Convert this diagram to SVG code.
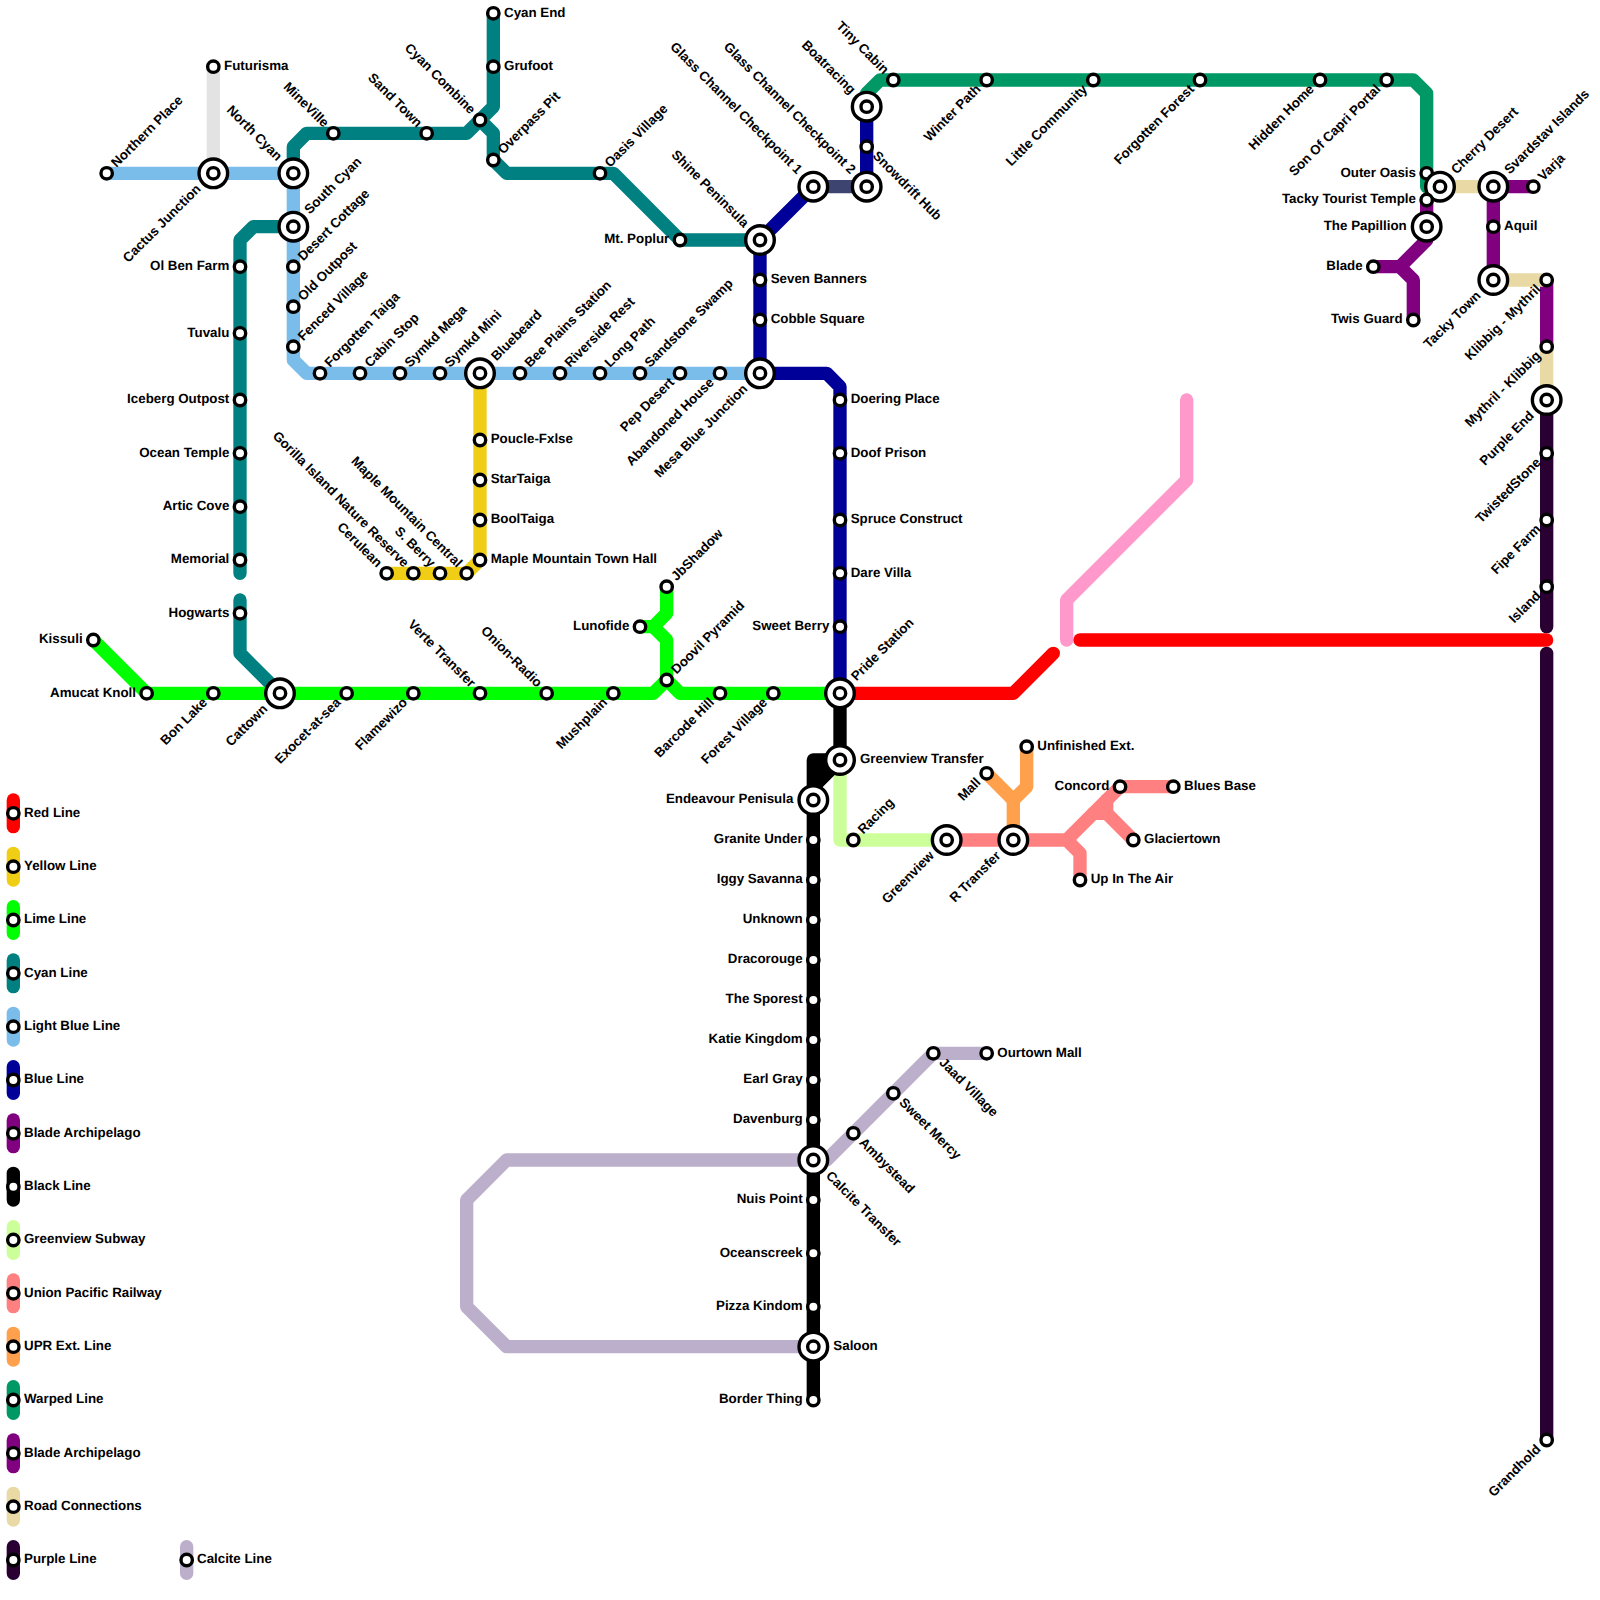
<svg xmlns="http://www.w3.org/2000/svg" xmlns:xlink="http://www.w3.org/1999/xlink" width="1600" height="1600" viewBox="0 0 1600 1600">
<style>
.ln{fill:none;stroke-width:13.33;stroke-linecap:round;stroke-linejoin:round}
.t{font-family:"Liberation Sans",Arial,sans-serif;font-size:13.33px;font-weight:700;fill:#000;text-rendering:geometricPrecision}
.a{text-anchor:end}
.red{stroke:#ff0000}.yel{stroke:#f0ce15}.lim{stroke:#00ff00}.cya{stroke:#008080}.lbl{stroke:#7bbdea}.blu{stroke:#000099}.pur{stroke:#800080}.blk{stroke:#000}.gvs{stroke:#ccff99}.upr{stroke:#ff8080}.ext{stroke:#ffa04d}.war{stroke:#009966}.rod{stroke:#e8d9a5}.dpu{stroke:#2a0033}.cal{stroke:#bcafcb}.pnk{stroke:#ff99cc}.gry{stroke:#e3e3e3}.sla{stroke:#3d4470}
.r{fill:#fff;stroke:#000;stroke-width:3.4}
</style>
<defs>
<g id="s"><circle class="r" r="5.7"/></g>
<g id="i"><circle class="r" r="14.3"/><circle class="r" r="5.7"/></g>
</defs>
<g id="connectors">
<path class="ln pnk" d="M1066.67 640V600L1186.67 480V400"/>
<path class="ln gry" d="M213.33 66.67V173.33"/>
<path class="ln cya" d="M493.33 13.33V106.67L466.67 133.33H306.67L293.33 146.67V173.33"/>
<path class="ln cya" d="M480 120L493.33 133.33V160L506.67 173.33H613.33L680 240H760"/>
<path class="ln cya" d="M293.33 226.67H253.33L240 240V573.33"/>
<path class="ln cya" d="M240 600V653.33L280 693.33"/>
<path class="ln lbl" d="M106.67 173.33H293.33V360L306.67 373.33H760"/>
<path class="ln yel" d="M480 373.33V560L466.67 573.33H386.67"/>
<path class="ln lim" d="M93.33 640L146.67 693.33H653.33L666.67 680L680 693.33H840"/>
<path class="ln lim" d="M666.67 586.67V613.33L653.33 626.67H640"/>
<path class="ln lim" d="M653.33 626.67L666.67 640V680"/>
<path class="ln blu" d="M866.67 106.67V186.67"/>
<path class="ln blu" d="M813.33 186.67L760 240V373.33H826.67L840 386.67V693.33"/>
<path class="ln sla" d="M813.33 186.67H866.67"/>
<path class="ln war" d="M866.67 106.67V93.33L880 80H1413.33L1426.67 93.33V186.67H1440"/>
<path class="ln pur" d="M1426.67 200V240L1400 266.67H1373.33"/>
<path class="ln pur" d="M1400 266.67L1413.33 280V320"/>
<path class="ln pur" d="M1533.33 186.67H1493.33V280"/>
<path class="ln pur" d="M1546.67 280V346.67"/>
<path class="ln rod" d="M1440 186.67H1493.33"/>
<path class="ln rod" d="M1493.33 280H1546.67"/>
<path class="ln rod" d="M1546.67 346.67V400"/>
<path class="ln dpu" d="M1546.67 400V626.67"/>
<path class="ln dpu" d="M1546.67 653.33V1440"/>
<path class="ln red" d="M840 693.33H1013.33L1053.33 653.33"/>
<path class="ln red" d="M1080 640H1546.67"/>
<path class="ln gvs" d="M840 760V840H946.67"/>
<path class="ln upr" d="M946.67 840H1066.67L1120 786.67H1173.33"/>
<path class="ln upr" d="M1066.67 840L1080 853.33V880"/>
<path class="ln upr" d="M1093.33 813.33H1106.67L1133.33 840"/>
<path class="ln upr" d="M1106.67 800V813.33"/>
<path class="ln ext" d="M1026.67 746.67V786.67L1013.33 800V840"/>
<path class="ln ext" d="M986.67 773.33L1013.33 800"/>
<path class="ln cal" d="M813.33 1160H506.67L466.67 1200V1306.67L506.67 1346.67H813.33"/>
<path class="ln cal" d="M813.33 1160H826.67L933.33 1053.33H986.67"/>
<path class="ln blk" d="M840 693.33V760L813.33 786.67V1400"/>
<path class="ln blk" style="fill:#000" d="M840 760H813.33V786.67Z"/>
</g>
<g id="legend">
<g id="leg-red"><path class="ln red" d="M13.33 800V826.67"/><use href="#s" x="13.33" y="813.33"/><text class="t" x="24" y="816.67">Red Line</text></g>
<g id="leg-yellow"><path class="ln yel" d="M13.33 853.33V880"/><use href="#s" x="13.33" y="866.67"/><text class="t" x="24" y="870">Yellow Line</text></g>
<g id="leg-lime"><path class="ln lim" d="M13.33 906.67V933.33"/><use href="#s" x="13.33" y="920"/><text class="t" x="24" y="923.33">Lime Line</text></g>
<g id="leg-cyan"><path class="ln cya" d="M13.33 960V986.67"/><use href="#s" x="13.33" y="973.33"/><text class="t" x="24" y="976.67">Cyan Line</text></g>
<g id="leg-lightblue"><path class="ln lbl" d="M13.33 1013.33V1040"/><use href="#s" x="13.33" y="1026.67"/><text class="t" x="24" y="1030">Light Blue Line</text></g>
<g id="leg-blue"><path class="ln blu" d="M13.33 1066.67V1093.33"/><use href="#s" x="13.33" y="1080"/><text class="t" x="24" y="1083.33">Blue Line</text></g>
<g id="leg-blade1"><path class="ln pur" d="M13.33 1120V1146.67"/><use href="#s" x="13.33" y="1133.33"/><text class="t" x="24" y="1136.67">Blade Archipelago</text></g>
<g id="leg-black"><path class="ln blk" d="M13.33 1173.33V1200"/><use href="#s" x="13.33" y="1186.67"/><text class="t" x="24" y="1190">Black Line</text></g>
<g id="leg-greenview"><path class="ln gvs" d="M13.33 1226.67V1253.33"/><use href="#s" x="13.33" y="1240"/><text class="t" x="24" y="1243.33">Greenview Subway</text></g>
<g id="leg-union"><path class="ln upr" d="M13.33 1280V1306.67"/><use href="#s" x="13.33" y="1293.33"/><text class="t" x="24" y="1296.67">Union Pacific Railway</text></g>
<g id="leg-upr"><path class="ln ext" d="M13.33 1333.33V1360"/><use href="#s" x="13.33" y="1346.67"/><text class="t" x="24" y="1350">UPR Ext. Line</text></g>
<g id="leg-warped"><path class="ln war" d="M13.33 1386.67V1413.33"/><use href="#s" x="13.33" y="1400"/><text class="t" x="24" y="1403.33">Warped Line</text></g>
<g id="leg-blade2"><path class="ln pur" d="M13.33 1440V1466.67"/><use href="#s" x="13.33" y="1453.33"/><text class="t" x="24" y="1456.67">Blade Archipelago</text></g>
<g id="leg-road"><path class="ln rod" d="M13.33 1493.33V1520"/><use href="#s" x="13.33" y="1506.67"/><text class="t" x="24" y="1510">Road Connections</text></g>
<g id="leg-purple"><path class="ln dpu" d="M13.33 1546.67V1573.33"/><use href="#s" x="13.33" y="1560"/><text class="t" x="24" y="1563.33">Purple Line</text></g>
<g id="leg-calcite"><path class="ln cal" d="M186.67 1546.67V1573.33"/><use href="#s" x="186.67" y="1560"/><text class="t" x="197" y="1563.33">Calcite Line</text></g>
</g>
<g id="stations">
<g id="n1" transform="translate(106.67 173.33)"><use href="#s"/><text class="t" transform="rotate(-45)" x="10.7" y="3.3">Northern Place</text></g>
<g id="n2" transform="translate(213.33 173.33)"><use href="#i"/><text class="t a" transform="rotate(-45)" x="-20" y="3.3">Cactus Junction</text></g>
<g id="n3" transform="translate(213.33 66.67)"><use href="#s"/><text class="t" x="10.7" y="3.3">Futurisma</text></g>
<g id="n4" transform="translate(293.33 173.33)"><use href="#i"/><text class="t a" transform="rotate(45)" x="-20" y="3.3">North Cyan</text></g>
<g id="n5" transform="translate(293.33 226.67)"><use href="#i"/><text class="t" transform="rotate(-45)" x="20" y="3.3">South Cyan</text></g>
<g id="n6" transform="translate(293.33 266.67)"><use href="#s"/><text class="t" transform="rotate(-45)" x="10.7" y="3.3">Desert Cottage</text></g>
<g id="n7" transform="translate(293.33 306.67)"><use href="#s"/><text class="t" transform="rotate(-45)" x="10.7" y="3.3">Old Outpost</text></g>
<g id="n8" transform="translate(293.33 346.67)"><use href="#s"/><text class="t" transform="rotate(-45)" x="10.7" y="3.3">Fenced Village</text></g>
<g id="n9" transform="translate(320 373.33)"><use href="#s"/><text class="t" transform="rotate(-45)" x="10.7" y="3.3">Forgotten Taiga</text></g>
<g id="n10" transform="translate(360 373.33)"><use href="#s"/><text class="t" transform="rotate(-45)" x="10.7" y="3.3">Cabin Stop</text></g>
<g id="n11" transform="translate(400 373.33)"><use href="#s"/><text class="t" transform="rotate(-45)" x="10.7" y="3.3">Symkd Mega</text></g>
<g id="n12" transform="translate(440 373.33)"><use href="#s"/><text class="t" transform="rotate(-45)" x="10.7" y="3.3">Symkd Mini</text></g>
<g id="n13" transform="translate(480 373.33)"><use href="#i"/><text class="t" transform="rotate(-45)" x="20" y="3.3">Bluebeard</text></g>
<g id="n14" transform="translate(520 373.33)"><use href="#s"/><text class="t" transform="rotate(-45)" x="10.7" y="3.3">Bee Plains Station</text></g>
<g id="n15" transform="translate(560 373.33)"><use href="#s"/><text class="t" transform="rotate(-45)" x="10.7" y="3.3">Riverside Rest</text></g>
<g id="n16" transform="translate(600 373.33)"><use href="#s"/><text class="t" transform="rotate(-45)" x="10.7" y="3.3">Long Path</text></g>
<g id="n17" transform="translate(640 373.33)"><use href="#s"/><text class="t" transform="rotate(-45)" x="10.7" y="3.3">Sandstone Swamp</text></g>
<g id="n18" transform="translate(680 373.33)"><use href="#s"/><text class="t a" transform="rotate(-45)" x="-10.7" y="3.3">Pep Desert</text></g>
<g id="n19" transform="translate(720 373.33)"><use href="#s"/><text class="t a" transform="rotate(-45)" x="-10.7" y="3.3">Abandoned House</text></g>
<g id="n20" transform="translate(760 373.33)"><use href="#i"/><text class="t a" transform="rotate(-45)" x="-20" y="3.3">Mesa Blue Junction</text></g>
<g id="n21" transform="translate(493.33 13.33)"><use href="#s"/><text class="t" x="10.7" y="3.3">Cyan End</text></g>
<g id="n22" transform="translate(493.33 66.67)"><use href="#s"/><text class="t" x="10.7" y="3.3">Grufoot</text></g>
<g id="n23" transform="translate(480 120)"><use href="#s"/><text class="t a" transform="rotate(45)" x="-10.7" y="3.3">Cyan Combine</text></g>
<g id="n24" transform="translate(493.33 160)"><use href="#s"/><text class="t" transform="rotate(-45)" x="10.7" y="3.3">Overpass Pit</text></g>
<g id="n25" transform="translate(600 173.33)"><use href="#s"/><text class="t" transform="rotate(-45)" x="10.7" y="3.3">Oasis Village</text></g>
<g id="n26" transform="translate(680 240)"><use href="#s"/><text class="t a" x="-10.7" y="3.3">Mt. Poplur</text></g>
<g id="n27" transform="translate(760 240)"><use href="#i"/><text class="t a" transform="rotate(45)" x="-20" y="3.3">Shine Peninsula</text></g>
<g id="n28" transform="translate(333.33 133.33)"><use href="#s"/><text class="t a" transform="rotate(45)" x="-10.7" y="3.3">MineVille</text></g>
<g id="n29" transform="translate(426.67 133.33)"><use href="#s"/><text class="t a" transform="rotate(45)" x="-10.7" y="3.3">Sand Town</text></g>
<g id="n30" transform="translate(240 266.67)"><use href="#s"/><text class="t a" x="-10.7" y="3.3">Ol Ben Farm</text></g>
<g id="n31" transform="translate(240 333.33)"><use href="#s"/><text class="t a" x="-10.7" y="3.3">Tuvalu</text></g>
<g id="n32" transform="translate(240 400)"><use href="#s"/><text class="t a" x="-10.7" y="3.3">Iceberg Outpost</text></g>
<g id="n33" transform="translate(240 453.33)"><use href="#s"/><text class="t a" x="-10.7" y="3.3">Ocean Temple</text></g>
<g id="n34" transform="translate(240 506.67)"><use href="#s"/><text class="t a" x="-10.7" y="3.3">Artic Cove</text></g>
<g id="n35" transform="translate(240 560)"><use href="#s"/><text class="t a" x="-10.7" y="3.3">Memorial</text></g>
<g id="n36" transform="translate(240 613.33)"><use href="#s"/><text class="t a" x="-10.7" y="3.3">Hogwarts</text></g>
<g id="n37" transform="translate(280 693.33)"><use href="#i"/><text class="t a" transform="rotate(-45)" x="-20" y="3.3">Cattown</text></g>
<g id="n38" transform="translate(480 440)"><use href="#s"/><text class="t" x="10.7" y="3.3">Poucle-Fxlse</text></g>
<g id="n39" transform="translate(480 480)"><use href="#s"/><text class="t" x="10.7" y="3.3">StarTaiga</text></g>
<g id="n40" transform="translate(480 520)"><use href="#s"/><text class="t" x="10.7" y="3.3">BoolTaiga</text></g>
<g id="n41" transform="translate(480 560)"><use href="#s"/><text class="t" x="10.7" y="3.3">Maple Mountain Town Hall</text></g>
<g id="n42" transform="translate(466.67 573.33)"><use href="#s"/><text class="t a" transform="rotate(45)" x="-10.7" y="3.3">Maple Mountain Central</text></g>
<g id="n43" transform="translate(440 573.33)"><use href="#s"/><text class="t a" transform="rotate(45)" x="-10.7" y="3.3">S. Berry</text></g>
<g id="n44" transform="translate(413.33 573.33)"><use href="#s"/><text class="t a" transform="rotate(45)" x="-10.7" y="3.3">Gorilla Island Nature Reserve</text></g>
<g id="n45" transform="translate(386.67 573.33)"><use href="#s"/><text class="t a" transform="rotate(45)" x="-10.7" y="3.3">Cerulean</text></g>
<g id="n46" transform="translate(93.33 640)"><use href="#s"/><text class="t a" x="-10.7" y="3.3">Kissuli</text></g>
<g id="n47" transform="translate(146.67 693.33)"><use href="#s"/><text class="t a" x="-10.7" y="3.3">Amucat Knoll</text></g>
<g id="n48" transform="translate(213.33 693.33)"><use href="#s"/><text class="t a" transform="rotate(-45)" x="-10.7" y="3.3">Bon Lake</text></g>
<g id="n49" transform="translate(346.67 693.33)"><use href="#s"/><text class="t a" transform="rotate(-45)" x="-10.7" y="3.3">Exocet-at-sea</text></g>
<g id="n50" transform="translate(413.33 693.33)"><use href="#s"/><text class="t a" transform="rotate(-45)" x="-10.7" y="3.3">Flamewizo</text></g>
<g id="n51" transform="translate(480 693.33)"><use href="#s"/><text class="t a" transform="rotate(45)" x="-10.7" y="3.3">Verte Transfer</text></g>
<g id="n52" transform="translate(546.67 693.33)"><use href="#s"/><text class="t a" transform="rotate(45)" x="-10.7" y="3.3">Onion-Radio</text></g>
<g id="n53" transform="translate(613.33 693.33)"><use href="#s"/><text class="t a" transform="rotate(-45)" x="-10.7" y="3.3">Mushplain</text></g>
<g id="n54" transform="translate(666.67 680)"><use href="#s"/><text class="t" transform="rotate(-45)" x="10.7" y="3.3">Doovil Pyramid</text></g>
<g id="n55" transform="translate(666.67 586.67)"><use href="#s"/><text class="t" transform="rotate(-45)" x="10.7" y="3.3">JbShadow</text></g>
<g id="n56" transform="translate(640 626.67)"><use href="#s"/><text class="t a" x="-10.7" y="3.3">Lunofide</text></g>
<g id="n57" transform="translate(720 693.33)"><use href="#s"/><text class="t a" transform="rotate(-45)" x="-10.7" y="3.3">Barcode Hill</text></g>
<g id="n58" transform="translate(773.33 693.33)"><use href="#s"/><text class="t a" transform="rotate(-45)" x="-10.7" y="3.3">Forest Village</text></g>
<g id="n59" transform="translate(840 693.33)"><use href="#i"/><text class="t" transform="rotate(-45)" x="20" y="3.3">Pride Station</text></g>
<g id="n60" transform="translate(760 280)"><use href="#s"/><text class="t" x="10.7" y="3.3">Seven Banners</text></g>
<g id="n61" transform="translate(760 320)"><use href="#s"/><text class="t" x="10.7" y="3.3">Cobble Square</text></g>
<g id="n62" transform="translate(840 400)"><use href="#s"/><text class="t" x="10.7" y="3.3">Doering Place</text></g>
<g id="n63" transform="translate(840 453.33)"><use href="#s"/><text class="t" x="10.7" y="3.3">Doof Prison</text></g>
<g id="n64" transform="translate(840 520)"><use href="#s"/><text class="t" x="10.7" y="3.3">Spruce Construct</text></g>
<g id="n65" transform="translate(840 573.33)"><use href="#s"/><text class="t" x="10.7" y="3.3">Dare Villa</text></g>
<g id="n66" transform="translate(840 626.67)"><use href="#s"/><text class="t a" x="-10.7" y="3.3">Sweet Berry</text></g>
<g id="n67" transform="translate(813.33 186.67)"><use href="#i"/><text class="t a" transform="rotate(45)" x="-20" y="3.3">Glass Channel Checkpoint 1</text></g>
<g id="n68" transform="translate(866.67 186.67)"><use href="#i"/><text class="t a" transform="rotate(45)" x="-20" y="3.3">Glass Channel Checkpoint 2</text></g>
<g id="n69" transform="translate(866.67 146.67)"><use href="#s"/><text class="t" transform="rotate(45)" x="10.7" y="3.3">Snowdrift Hub</text></g>
<g id="n70" transform="translate(866.67 106.67)"><use href="#i"/><text class="t a" transform="rotate(45)" x="-20" y="3.3">Boatracing</text></g>
<g id="n71" transform="translate(893.33 80)"><use href="#s"/><text class="t a" transform="rotate(45)" x="-10.7" y="3.3">Tiny Cabin</text></g>
<g id="n72" transform="translate(986.67 80)"><use href="#s"/><text class="t a" transform="rotate(-45)" x="-10.7" y="3.3">Winter Path</text></g>
<g id="n73" transform="translate(1093.33 80)"><use href="#s"/><text class="t a" transform="rotate(-45)" x="-10.7" y="3.3">Little Community</text></g>
<g id="n74" transform="translate(1200 80)"><use href="#s"/><text class="t a" transform="rotate(-45)" x="-10.7" y="3.3">Forgotten Forest</text></g>
<g id="n75" transform="translate(1320 80)"><use href="#s"/><text class="t a" transform="rotate(-45)" x="-10.7" y="3.3">Hidden Home</text></g>
<g id="n76" transform="translate(1386.67 80)"><use href="#s"/><text class="t a" transform="rotate(-45)" x="-10.7" y="3.3">Son Of Capri Portal</text></g>
<g id="n77" transform="translate(1426.67 173.33)"><use href="#s"/><text class="t a" x="-10.7" y="3.3">Outer Oasis</text></g>
<g id="n78" transform="translate(1440 186.67)"><use href="#i"/><text class="t" transform="rotate(-45)" x="20" y="3.3">Cherry Desert</text></g>
<g id="n79" transform="translate(1426.67 200)"><use href="#s"/><text class="t a" x="-10.7" y="3.3">Tacky Tourist Temple</text></g>
<g id="n80" transform="translate(1426.67 226.67)"><use href="#i"/><text class="t a" x="-20" y="3.3">The Papillion</text></g>
<g id="n81" transform="translate(1373.33 266.67)"><use href="#s"/><text class="t a" x="-10.7" y="3.3">Blade</text></g>
<g id="n82" transform="translate(1413.33 320)"><use href="#s"/><text class="t a" x="-10.7" y="3.3">Twis Guard</text></g>
<g id="n83" transform="translate(1493.33 186.67)"><use href="#i"/><text class="t" transform="rotate(-45)" x="20" y="3.3">Svardstav Islands</text></g>
<g id="n84" transform="translate(1533.33 186.67)"><use href="#s"/><text class="t" transform="rotate(-45)" x="10.7" y="3.3">Varja</text></g>
<g id="n85" transform="translate(1493.33 226.67)"><use href="#s"/><text class="t" x="10.7" y="3.3">Aquil</text></g>
<g id="n86" transform="translate(1493.33 280)"><use href="#i"/><text class="t a" transform="rotate(-45)" x="-20" y="3.3">Tacky Town</text></g>
<g id="n87" transform="translate(1546.67 280)"><use href="#s"/><text class="t a" transform="rotate(-45)" x="-10.7" y="3.3">Klibbig - Mythril</text></g>
<g id="n88" transform="translate(1546.67 346.67)"><use href="#s"/><text class="t a" transform="rotate(-45)" x="-10.7" y="3.3">Mythril - Klibbig</text></g>
<g id="n89" transform="translate(1546.67 400)"><use href="#i"/><text class="t a" transform="rotate(-45)" x="-20" y="3.3">Purple End</text></g>
<g id="n90" transform="translate(1546.67 453.33)"><use href="#s"/><text class="t a" transform="rotate(-45)" x="-10.7" y="3.3">TwistedStone</text></g>
<g id="n91" transform="translate(1546.67 520)"><use href="#s"/><text class="t a" transform="rotate(-45)" x="-10.7" y="3.3">Fipe Farm</text></g>
<g id="n92" transform="translate(1546.67 586.67)"><use href="#s"/><text class="t a" transform="rotate(-45)" x="-10.7" y="3.3">Island</text></g>
<g id="n93" transform="translate(1546.67 1440)"><use href="#s"/><text class="t a" transform="rotate(-45)" x="-10.7" y="3.3">Grandhold</text></g>
<g id="n94" transform="translate(840 760)"><use href="#i"/><text class="t" x="20" y="3.3">Greenview Transfer</text></g>
<g id="n95" transform="translate(813.33 800)"><use href="#i"/><text class="t a" x="-20" y="3.3">Endeavour Penisula</text></g>
<g id="n96" transform="translate(813.33 840)"><use href="#s"/><text class="t a" x="-10.7" y="3.3">Granite Under</text></g>
<g id="n97" transform="translate(813.33 880)"><use href="#s"/><text class="t a" x="-10.7" y="3.3">Iggy Savanna</text></g>
<g id="n98" transform="translate(813.33 920)"><use href="#s"/><text class="t a" x="-10.7" y="3.3">Unknown</text></g>
<g id="n99" transform="translate(813.33 960)"><use href="#s"/><text class="t a" x="-10.7" y="3.3">Dracorouge</text></g>
<g id="n100" transform="translate(813.33 1000)"><use href="#s"/><text class="t a" x="-10.7" y="3.3">The Sporest</text></g>
<g id="n101" transform="translate(813.33 1040)"><use href="#s"/><text class="t a" x="-10.7" y="3.3">Katie Kingdom</text></g>
<g id="n102" transform="translate(813.33 1080)"><use href="#s"/><text class="t a" x="-10.7" y="3.3">Earl Gray</text></g>
<g id="n103" transform="translate(813.33 1120)"><use href="#s"/><text class="t a" x="-10.7" y="3.3">Davenburg</text></g>
<g id="n104" transform="translate(813.33 1160)"><use href="#i"/><text class="t" transform="rotate(45)" x="20" y="3.3">Calcite Transfer</text></g>
<g id="n105" transform="translate(813.33 1200)"><use href="#s"/><text class="t a" x="-10.7" y="3.3">Nuis Point</text></g>
<g id="n106" transform="translate(813.33 1253.33)"><use href="#s"/><text class="t a" x="-10.7" y="3.3">Oceanscreek</text></g>
<g id="n107" transform="translate(813.33 1306.67)"><use href="#s"/><text class="t a" x="-10.7" y="3.3">Pizza Kindom</text></g>
<g id="n108" transform="translate(813.33 1346.67)"><use href="#i"/><text class="t" x="20" y="3.3">Saloon</text></g>
<g id="n109" transform="translate(813.33 1400)"><use href="#s"/><text class="t a" x="-10.7" y="3.3">Border Thing</text></g>
<g id="n110" transform="translate(853.33 840)"><use href="#s"/><text class="t" transform="rotate(-45)" x="10.7" y="3.3">Racing</text></g>
<g id="n111" transform="translate(946.67 840)"><use href="#i"/><text class="t a" transform="rotate(-45)" x="-20" y="3.3">Greenview</text></g>
<g id="n112" transform="translate(1013.33 840)"><use href="#i"/><text class="t a" transform="rotate(-45)" x="-20" y="3.3">R Transfer</text></g>
<g id="n113" transform="translate(986.67 773.33)"><use href="#s"/><text class="t a" transform="rotate(-45)" x="-10.7" y="3.3">Mall</text></g>
<g id="n114" transform="translate(1026.67 746.67)"><use href="#s"/><text class="t" x="10.7" y="3.3">Unfinished Ext.</text></g>
<g id="n115" transform="translate(1120 786.67)"><use href="#s"/><text class="t a" x="-10.7" y="3.3">Concord</text></g>
<g id="n116" transform="translate(1173.33 786.67)"><use href="#s"/><text class="t" x="10.7" y="3.3">Blues Base</text></g>
<g id="n117" transform="translate(1133.33 840)"><use href="#s"/><text class="t" x="10.7" y="3.3">Glaciertown</text></g>
<g id="n118" transform="translate(1080 880)"><use href="#s"/><text class="t" x="10.7" y="3.3">Up In The Air</text></g>
<g id="n119" transform="translate(853.33 1133.33)"><use href="#s"/><text class="t" transform="rotate(45)" x="10.7" y="3.3">Ambystead</text></g>
<g id="n120" transform="translate(893.33 1093.33)"><use href="#s"/><text class="t" transform="rotate(45)" x="10.7" y="3.3">Sweet Mercy</text></g>
<g id="n121" transform="translate(933.33 1053.33)"><use href="#s"/><text class="t" transform="rotate(45)" x="10.7" y="3.3">Jaad Village</text></g>
<g id="n122" transform="translate(986.67 1053.33)"><use href="#s"/><text class="t" x="10.7" y="3.3">Ourtown Mall</text></g>
</g>
</svg>
